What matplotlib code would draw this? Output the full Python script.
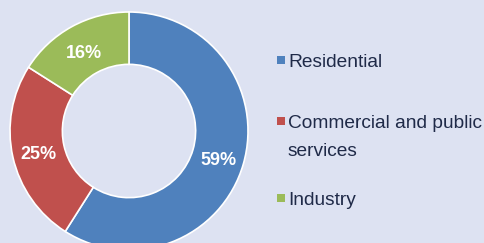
import numpy as np
import matplotlib.pyplot as plt
from matplotlib.patches import Rectangle

# data
labels = ["Residential", "Commercial and public\nservices", "Industry"]
values = [59, 25, 16]
colors = ["#4f81bd", "#c0504d", "#9bbb59"]
legend_y = [67, 128, 205]  # baseline pixel rows of the legend entries (from top)

W, H = 484, 243
bg = "#dde2f2"

fig = plt.figure(figsize=(W / 100, H / 100), dpi=100, facecolor=bg)

# donut centred at (129, 131) px, outer radius 119 px
cx, cy, r = 129, 131, 119
ax = fig.add_axes([(cx - r) / W, (H - cy - r) / H, 2 * r / W, 2 * r / H])
ax.set_facecolor(bg)
wedges, texts = ax.pie(values, colors=colors, startangle=90, counterclock=False,
                       radius=1.0, wedgeprops=dict(width=0.44, edgecolor="white", linewidth=1.2))
ax.set_xlim(-1, 1)
ax.set_ylim(-1, 1)
ax.set_aspect("equal")
ax.axis("off")

# percent labels
start = 90
for v in values:
    mid = np.deg2rad(start - v / 2 * 3.6)
    ax.text(0.78 * np.cos(mid), 0.78 * np.sin(mid) - 0.03, f"{v}%", color="white",
            fontsize=13, fontweight="bold", ha="center", va="center",
            family="Liberation Sans")
    start -= v * 3.6

# legend drawn by hand
for lab, col, y in zip(labels, colors, legend_y):
    fig.patches.append(Rectangle((277 / W, 1 - (y - 3) / H), 8 / W, 8 / H,
                                 transform=fig.transFigure, facecolor=col,
                                 edgecolor="none"))
    for k, line in enumerate(lab.split("\n")):
        fig.text(288 / W, 1 - (y + 28 * k) / H, line, color="#1f2a48", fontsize=13.8,
                 family="Liberation Sans", ha="left", va="baseline")

fig.savefig("out.png", dpi=100, facecolor=bg)
